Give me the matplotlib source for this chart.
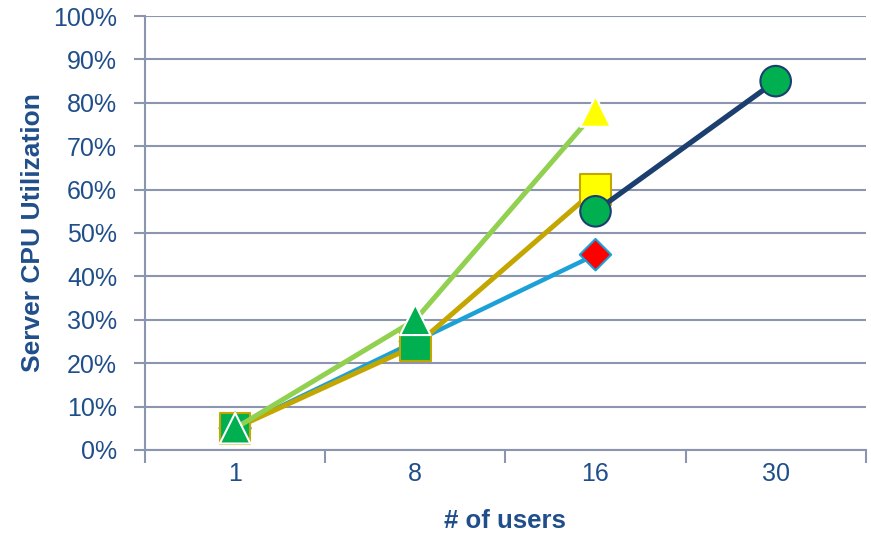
import numpy as np
import matplotlib
matplotlib.use("Agg")
import matplotlib.pyplot as plt
from matplotlib.ticker import FixedLocator, NullFormatter, FixedFormatter

plt.rcParams['font.family'] = ['Liberation Sans', 'DejaVu Sans']

categories = ['1', '8', '16', '30']
blue_vals = [5, 25, 45, np.nan]
gold_vals = [5, 24, 60, np.nan]
green_vals = [5, 30, 78, np.nan]
navy_vals = [np.nan, np.nan, 55, 85]
y_ticks = [0, 10, 20, 30, 40, 50, 60, 70, 80, 90, 100]
y_ticklabels = [f"{v}%" for v in y_ticks]

TEXT = '#1F4E8A'
GRID = '#8C95B0'

series = [
    # values, line color, marker, face colors, edge color, marker size
    (blue_vals, '#1BA0D7', 'D', ['#FF0000', '#FF0000', '#FF0000', '#FF0000'], '#1BA0D7', 16),
    (gold_vals, '#C4A600', 's', ['#00B050', '#00B050', '#FFFF00', '#FFFF00'], '#C4A600', 22),
    (green_vals, '#92D050', '^', ['#00B050', '#00B050', '#FFFF00', '#FFFF00'], '#FFFFFF', 22),
    (navy_vals, '#1B3F6E', 'o', ['#00B050', '#00B050', '#00B050', '#00B050'], '#1B3F6E', 22),
]
line_widths = [3.2, 3.6, 3.6, 3.8]

fig = plt.figure(figsize=(8.71, 5.35), dpi=100)
ax = fig.add_axes([0.1665, 0.159, 0.8275, 0.811])

x = np.arange(len(categories))
for i, (vals, lc, mk, fcs, ec, ms) in enumerate(series):
    v = np.array(vals, dtype=float)
    ax.plot(x, v, color=lc, lw=line_widths[i], solid_capstyle='butt', zorder=3 + 2 * i)
    mask = ~np.isnan(v)
    ax.scatter(x[mask], v[mask], s=ms ** 2, marker=mk,
               c=[fcs[j] for j in range(len(v)) if mask[j]],
               edgecolors=ec, linewidths=1.5, zorder=4 + 2 * i, clip_on=False)

ax.set_xlim(-0.5, 3.5)
ax.set_ylim(0, 100)

# y axis
ax.set_yticks(y_ticks)
ax.set_yticklabels(y_ticklabels)
ax.tick_params(axis='y', direction='out', length=8, width=1.5, color=GRID,
               labelsize=18, labelcolor=TEXT, pad=12)
ax.yaxis.grid(True, color=GRID, lw=1.5)
ax.set_axisbelow(True)

# x axis: ticks at category boundaries, labels at centers
ax.xaxis.set_major_locator(FixedLocator(np.arange(-0.5, 3.6, 1.0)))
ax.xaxis.set_major_formatter(NullFormatter())
ax.xaxis.set_minor_locator(FixedLocator(x))
ax.xaxis.set_minor_formatter(FixedFormatter(categories))
ax.tick_params(axis='x', which='major', direction='out', length=9, width=1.5, color=GRID)
ax.tick_params(axis='x', which='minor', length=0, labelsize=18, labelcolor=TEXT, pad=9)

for s in ['top', 'right']:
    ax.spines[s].set_visible(False)
for s in ['left', 'bottom']:
    ax.spines[s].set_color(GRID)
    ax.spines[s].set_linewidth(1.5)

ax.set_xlabel('# of users', fontsize=18.5, fontweight='bold', color=TEXT, labelpad=16)
ax.set_ylabel('Server CPU Utilization', fontsize=19, fontweight='bold', color=TEXT, labelpad=6)

fig.savefig('out.png', dpi=100)
